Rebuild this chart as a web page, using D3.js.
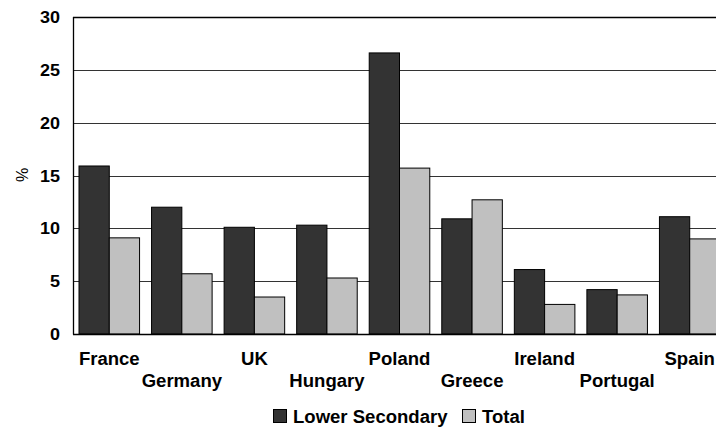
<!DOCTYPE html>
<html>
<head>
<meta charset="utf-8">
<script src="https://cdn.jsdelivr.net/npm/d3@7/dist/d3.min.js"></script>
<style>
  html, body { margin: 0; padding: 0; background: #fff; }
  svg { display: block; }
  text { font-family: "Liberation Sans", Arial, sans-serif; }
</style>
</head>
<body>
<svg id="chart" width="716" height="431"></svg>
<script>
const categories = ["France", "Germany", "UK", "Hungary", "Poland", "Greece", "Ireland", "Portugal", "Spain"];
const lowerSecondary = [15.9, 12.0, 10.1, 10.3, 26.6, 10.9, 6.1, 4.2, 11.1];
const total = [9.1, 5.7, 3.5, 5.3, 15.7, 12.7, 2.8, 3.7, 9.0];
const seriesNames = ["Lower Secondary", "Total"];
const seriesColors = ["#333333", "#c0c0c0"];
const yTicks = [0, 5, 10, 15, 20, 25, 30];

const svg = d3.select("#chart");
const mLeft = 73, mRight = 726, mTop = 17, mBottom = 334;
const sx = 1.06;

const x = d3.scaleBand().domain(categories).range([mLeft, mRight])
  .paddingInner(0.1654).paddingOuter(0.0827);
const xs = d3.scaleBand().domain(seriesNames).range([0, x.bandwidth()]);
const y = d3.scaleLinear().domain([0, 30]).range([mBottom, mTop]);

// gridlines
svg.append("g").selectAll("line").data(yTicks.filter(t => t > 0)).join("line")
  .attr("x1", mLeft).attr("x2", 716)
  .attr("y1", d => Math.round(y(d)) + 0.5).attr("y2", d => Math.round(y(d)) + 0.5)
  .attr("stroke", d => d === 30 ? "#000" : "#333").attr("stroke-width", d => d === 30 ? 1.3 : 1);

// bars
const data = categories.map((c, i) => ({ c, vals: [lowerSecondary[i], total[i]] }));
const g = svg.append("g").selectAll("g").data(data).join("g")
  .attr("transform", d => `translate(${x(d.c)},0)`);
g.selectAll("rect").data(d => d.vals.map((v, j) => ({ v, s: seriesNames[j], j }))).join("rect")
  .attr("x", d => xs(d.s))
  .attr("width", xs.bandwidth())
  .attr("y", d => y(d.v))
  .attr("height", d => y(0) - y(d.v))
  .attr("fill", d => seriesColors[d.j])
  .attr("stroke", "#000").attr("stroke-width", 1);

// axes lines
svg.append("line").attr("x1", mLeft + 0.5).attr("x2", mLeft + 0.5).attr("y1", mTop).attr("y2", mBottom + 0.5)
  .attr("stroke", "#000").attr("stroke-width", 1.3);
svg.append("line").attr("x1", mLeft).attr("x2", 716).attr("y1", mBottom + 0.5).attr("y2", mBottom + 0.5)
  .attr("stroke", "#000").attr("stroke-width", 1.3);

// y tick labels
svg.append("g").selectAll("text").data(yTicks).join("text")
  .attr("transform", d => `translate(60,${y(d) + 6}) scale(${sx},1)`)
  .attr("text-anchor", "end")
  .attr("font-size", "17px").attr("font-weight", "bold")
  .text(d => d);

// y axis title
svg.append("text").attr("transform", "translate(28,175) rotate(-90)")
  .attr("text-anchor", "middle").attr("font-size", "16px")
  .text("%");

// category labels (staggered)
svg.append("g").selectAll("text").data(categories).join("text")
  .attr("transform", (d, i) => `translate(${x(d) + x.bandwidth() / 2},${i % 2 === 0 ? 365 : 387}) scale(${sx},1)`)
  .attr("text-anchor", "middle")
  .attr("font-size", "17.5px").attr("font-weight", "bold")
  .text(d => d);

// legend
const legendX = [273, 462];
const lg = svg.append("g").selectAll("g").data(seriesNames).join("g")
  .attr("transform", (d, i) => `translate(${legendX[i]},409)`);
lg.append("rect").attr("x", 0.5).attr("y", 0.5).attr("width", 13).attr("height", 13)
  .attr("fill", (d, i) => seriesColors[i]).attr("stroke", "#000");
lg.append("text").attr("transform", `translate(20,14) scale(${sx},1)`)
  .attr("font-size", "17.5px").attr("font-weight", "bold")
  .text(d => d);
</script>
</body>
</html>
